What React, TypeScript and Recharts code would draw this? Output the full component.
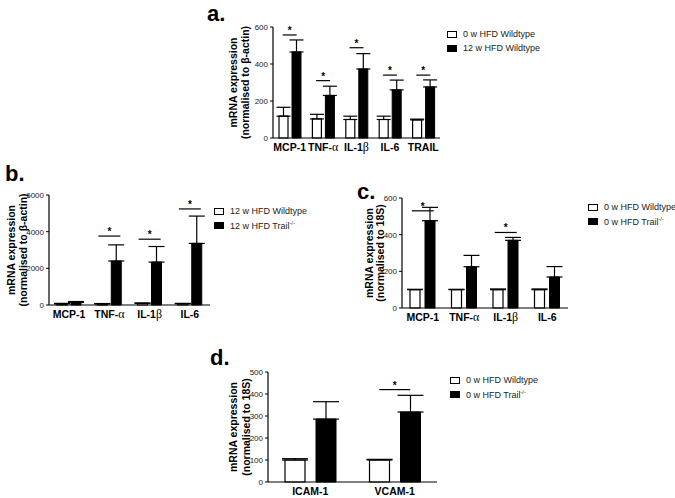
import React from 'react';
import { ComposedChart, Bar, ErrorBar, Scatter, XAxis, YAxis } from 'recharts';

// panel a
const catsA = ['MCP-1', 'TNF-α', 'IL-1β', 'IL-6', 'TRAIL'];
const wtA = [118, 103, 100, 100, 98];
const wtErrA = [48, 25, 18, 18, 4];
const hfdA = [465, 230, 373, 260, 276];
const hfdErrA = [65, 50, 83, 53, 38];
const sigA = [557, 310, 488, 340, 340];
const ticksA = [0, 200, 400, 600];

// panel b
const catsB = ['MCP-1', 'TNF-α', 'IL-1β', 'IL-6'];
const wtB = [60, 60, 90, 70];
const wtErrB = [30, 20, 20, 20];
const koB = [140, 2400, 2340, 3360];
const koErrB = [50, 880, 850, 1490];
const sigB = [null, 3760, 3590, 5240];
const ticksB = [0, 2000, 4000, 6000];

// panel c
const catsC = ['MCP-1', 'TNF-α', 'IL-1β', 'IL-6'];
const wtC = [100, 100, 100, 100];
const wtErrC = [2, 2, 4, 4];
const koC = [476, 225, 369, 169];
const koErrC = [73, 62, 16, 57];
const sigC = [530, null, 412, null];
const ticksC = [0, 200, 400, 600];

// panel d
const catsD = ['ICAM-1', 'VCAM-1'];
const wtD = [100, 100];
const wtErrD = [6, 3];
const koD = [286, 318];
const koErrD = [79, 76];
const sigD = [null, 420];
const ticksD = [0, 100, 200, 300, 400, 500];

const FONT = '"Liberation Sans", Arial, sans-serif';

const rows = (cats, wt, wtErr, ko, koErr, sig) =>
  cats.map((name, i) => ({
    name,
    wt: wt[i],
    wtErr: [0, wtErr[i]],
    ko: ko[i],
    koErr: [0, koErr[i]],
    sig: sig[i] == null ? null : sig[i],
  }));

const CatTick = (props: any) => {
  const { x, y, payload } = props;
  const label = String(payload.value);
  const m = label.match(/^(.*?)([αβ])$/);
  return (
    <text x={x} y={y + 13} textAnchor="middle" fontWeight="bold" fontSize={10.5} fill="#000" fontFamily={FONT}>
      {m ? (
        <>
          {m[1]}
          <tspan fontFamily='"Liberation Serif", serif' fontWeight="normal" fontSize={12}>{m[2]}</tspan>
        </>
      ) : (
        label
      )}
    </text>
  );
};

const AxisTitle = (props: any) => {
  const { viewBox, l1, l2, o1, o2 } = props;
  if (!viewBox) return null;
  const px = viewBox.x + viewBox.width;
  const cy = viewBox.y + viewBox.height / 2;
  const t = (txt, dx) => (
    <text
      x={px - dx}
      y={cy}
      transform={`rotate(-90 ${px - dx} ${cy})`}
      textAnchor="middle"
      dominantBaseline="central"
      fontWeight="bold"
      fontSize={10.5}
      fontFamily={FONT}
      fill="#000"
    >
      {txt}
    </text>
  );
  return (
    <g>
      {t(l1, o1)}
      {t(l2, o2)}
    </g>
  );
};

const sigShape = (w: number) => (props: any) => {
  const { cx, cy, payload } = props;
  if (!payload || payload.sig == null || !Number.isFinite(cy)) return <g />;
  return (
    <g>
      <line x1={cx - w / 2} x2={cx + w / 2} y1={cy} y2={cy} stroke="#000" strokeWidth={1.2} />
      <text x={cx} y={cy - 1} textAnchor="middle" fontSize={10} fontWeight="bold" fontFamily={FONT}>*</text>
    </g>
  );
};

const Panel = ({ box, margin, data, ticks, barSize, barGap, catGap, sigW, capW, title }) => (
  <div style={{ position: 'absolute', left: box[0], top: box[1] }}>
    <ComposedChart
      width={box[2]}
      height={box[3]}
      data={data}
      margin={margin}
      barGap={barGap}
      barCategoryGap={catGap}
    >
      <XAxis
        dataKey="name"
        interval={0}
        tickLine={false}
        tickSize={0}
        tickMargin={0}
        height={20}
        axisLine={{ stroke: '#000', strokeWidth: 1.2 }}
        tick={<CatTick />}
      />
      <YAxis
        type="number"
        domain={[0, ticks[ticks.length - 1]]}
        ticks={ticks}
        interval={0}
        width={30}
        tickSize={3}
        tickMargin={2}
        axisLine={{ stroke: '#000', strokeWidth: 1.2 }}
        tickLine={{ stroke: '#000' }}
        tick={{ fontSize: 8, fill: '#222', fontFamily: FONT }}
        label={<AxisTitle l1={title[0]} l2={title[1]} o1={title[2]} o2={title[3]} />}
      />
      <Bar dataKey="wt" barSize={barSize} fill="#fff" stroke="#000" strokeWidth={1.2} isAnimationActive={false}>
        <ErrorBar dataKey="wtErr" width={capW} stroke="#000" strokeWidth={1.2} direction="y" />
      </Bar>
      <Bar dataKey="ko" barSize={barSize} fill="#000" stroke="#000" strokeWidth={1} isAnimationActive={false}>
        <ErrorBar dataKey="koErr" width={capW} stroke="#000" strokeWidth={1.2} direction="y" />
      </Bar>
      <Scatter dataKey="sig" shape={sigShape(sigW)} isAnimationActive={false} />
    </ComposedChart>
  </div>
);

const LegendBox = ({ left, top, names }) => (
  <div style={{ position: 'absolute', left, top, fontFamily: FONT, fontSize: 9, color: '#222', whiteSpace: 'nowrap' }}>
    {names.map((n, i) => (
      <div key={i} style={{ display: 'flex', alignItems: 'center', height: 14 }}>
        <span
          style={{
            display: 'inline-block',
            width: 8,
            height: 5,
            border: '1.2px solid #000',
            background: i === 0 ? '#fff' : '#000',
            marginRight: 6,
          }}
        />
        <span>{n}</span>
      </div>
    ))}
  </div>
);

const trail = (p: string) => (
  <>
    {p} w HFD Trail<sup style={{ fontSize: 5.5 }}>-/-</sup>
  </>
);

const PanelLabel = ({ left, top, text }) => (
  <div style={{ position: 'absolute', left, top, fontFamily: FONT, fontWeight: 'bold', fontSize: 22, lineHeight: '24px' }}>
    {text}
  </div>
);

export default function App() {
  return (
    <div style={{ position: 'absolute', left: 0, top: 0, width: 675, height: 498, overflow: 'hidden', background: '#fff' }}>
      <Panel
        box={[200, 0, 250, 170]}
        margin={{ top: 27, right: 10, bottom: 12, left: 43 }}
        data={rows(catsA, wtA, wtErrA, hfdA, hfdErrA, sigA)}
        ticks={ticksA}
        barSize={9}
        barGap={4}
        catGap={5.7}
        sigW={14}
        capW={7}
        title={['mRNA expression', '(normalised to β-actin)', 40, 28]}
      />
      <Panel
        box={[0, 170, 220, 165]}
        margin={{ top: 25, right: 10, bottom: 10, left: 19 }}
        data={rows(catsB, wtB, wtErrB, koB, koErrB, sigB)}
        ticks={ticksB}
        barSize={10}
        barGap={4}
        catGap={8}
        sigW={22}
        capW={8}
        title={['mRNA expression', '(normalised to β-actin)', 38, 26]}
      />
      <Panel
        box={[340, 175, 240, 160]}
        margin={{ top: 23, right: 12, bottom: 7, left: 32 }}
        data={rows(catsC, wtC, wtErrC, koC, koErrC, sigC)}
        ticks={ticksC}
        barSize={10}
        barGap={5}
        catGap={8.2}
        sigW={22}
        capW={8}
        title={['mRNA expression', '(normalised to 18S)', 33, 22]}
      />
      <Panel
        box={[200, 345, 250, 158]}
        margin={{ top: 27, right: 13, bottom: 1, left: 38 }}
        data={rows(catsD, wtD, wtErrD, koD, koErrD, sigD)}
        ticks={ticksD}
        barSize={20}
        barGap={11}
        catGap={16.7}
        sigW={31}
        capW={13}
        title={['mRNA expression', '(normalised to 18S)', 35, 22]}
      />

      <PanelLabel left={207} top={2} text="a." />
      <PanelLabel left={5} top={162} text="b." />
      <PanelLabel left={357} top={180} text="c." />
      <PanelLabel left={210} top={346} text="d." />

      <LegendBox left={447} top={27} names={['0 w HFD Wildtype', '12 w HFD Wildtype']} />
      <LegendBox left={214} top={204} names={['12 w HFD Wildtype', trail('12')]} />
      <LegendBox left={588} top={200} names={['0 w HFD Wildtype', trail('0')]} />
      <LegendBox left={450} top={373} names={['0 w HFD Wildtype', trail('0')]} />
    </div>
  );
}
